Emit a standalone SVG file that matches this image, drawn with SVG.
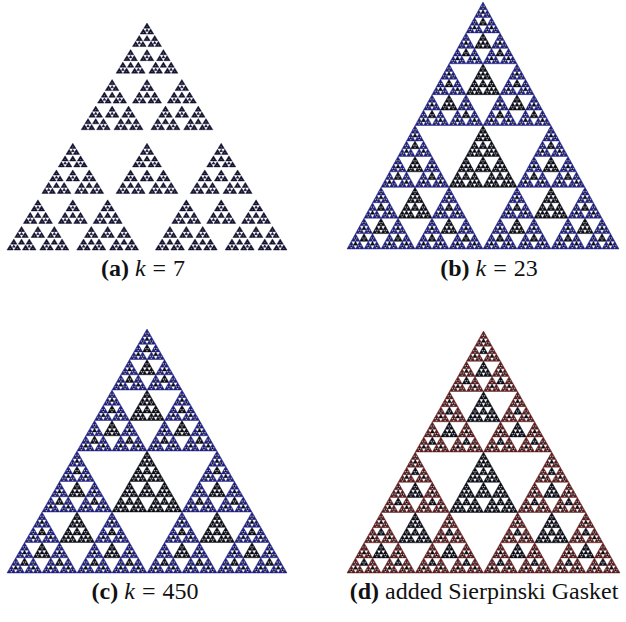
<svg xmlns="http://www.w3.org/2000/svg" width="626" height="622" viewBox="0 0 626 622">
  <style>
    .leaf { stroke-width: 0.45px; vector-effect: non-scaling-stroke; stroke-linejoin: miter; }
    .k { fill: #0b0b16; stroke: #0b0b16; }
    .ink { fill: #121230; stroke: #121230; }
    .blue { fill: #1f1f82; stroke: #1f1f82; }
    .red { fill: #5e1c1c; stroke: #5e1c1c; }
    .cap { font-family: "Liberation Serif", "Times New Roman", serif; font-size: 24px; fill: #111; text-anchor: middle; }
    .cap .b { font-weight: bold; }
    .cap .i { font-style: italic; }
  </style>
  <defs>
    <!-- unit triangle: apex (0.5,0), base (0,1)-(1,1) -->
    <polygon id="t" class="leaf" points="0,1 1,1 0.5,0"/>
    <polygon id="k0" class="k leaf" points="0,1 1,1 0.5,0"/>
    <!-- small solid triangle with a pin-hole, for the early iterate -->
    <path id="tp" class="leaf" fill-rule="evenodd" d="M0,1 L1,1 L0.5,0 Z M0.38,0.62 L0.62,0.62 L0.5,0.84 Z"/>

    <!-- black gasket with filled holes: 3 half-size corners + quarter-size copy at hole top -->
    <g id="k1">
      <use href="#k0" transform="translate(0.25 0) scale(0.5)"/>
      <use href="#k0" transform="translate(0 0.5) scale(0.5)"/>
      <use href="#k0" transform="translate(0.5 0.5) scale(0.5)"/>
      <use href="#k0" transform="translate(0.375 0.5) scale(0.25)"/>
    </g>
    <g id="k2">
      <use href="#k1" transform="translate(0.25 0) scale(0.5)"/>
      <use href="#k1" transform="translate(0 0.5) scale(0.5)"/>
      <use href="#k1" transform="translate(0.5 0.5) scale(0.5)"/>
      <use href="#k0" transform="translate(0.375 0.5) scale(0.25)"/>
    </g>
    <g id="k3">
      <use href="#k2" transform="translate(0.25 0) scale(0.5)"/>
      <use href="#k2" transform="translate(0 0.5) scale(0.5)"/>
      <use href="#k2" transform="translate(0.5 0.5) scale(0.5)"/>
      <use href="#k1" transform="translate(0.375 0.5) scale(0.25)"/>
    </g>
    <g id="k4">
      <use href="#k3" transform="translate(0.25 0) scale(0.5)"/>
      <use href="#k3" transform="translate(0 0.5) scale(0.5)"/>
      <use href="#k3" transform="translate(0.5 0.5) scale(0.5)"/>
      <use href="#k2" transform="translate(0.375 0.5) scale(0.25)"/>
    </g>

    <!-- coloured gasket: corners take the inherited fill, hole copies stay black -->
    <g id="b1">
      <use href="#t" transform="translate(0.25 0) scale(0.5)"/>
      <use href="#t" transform="translate(0 0.5) scale(0.5)"/>
      <use href="#t" transform="translate(0.5 0.5) scale(0.5)"/>
      <use href="#k0" transform="translate(0.375 0.5) scale(0.25)"/>
    </g>
    <g id="b2">
      <use href="#b1" transform="translate(0.25 0) scale(0.5)"/>
      <use href="#b1" transform="translate(0 0.5) scale(0.5)"/>
      <use href="#b1" transform="translate(0.5 0.5) scale(0.5)"/>
      <use href="#k0" transform="translate(0.375 0.5) scale(0.25)"/>
    </g>
    <g id="b3">
      <use href="#b2" transform="translate(0.25 0) scale(0.5)"/>
      <use href="#b2" transform="translate(0 0.5) scale(0.5)"/>
      <use href="#b2" transform="translate(0.5 0.5) scale(0.5)"/>
      <use href="#k1" transform="translate(0.375 0.5) scale(0.25)"/>
    </g>
    <g id="b4">
      <use href="#b3" transform="translate(0.25 0) scale(0.5)"/>
      <use href="#b3" transform="translate(0 0.5) scale(0.5)"/>
      <use href="#b3" transform="translate(0.5 0.5) scale(0.5)"/>
      <use href="#k2" transform="translate(0.375 0.5) scale(0.25)"/>
    </g>
    <g id="b5">
      <use href="#b4" transform="translate(0.25 0) scale(0.5)"/>
      <use href="#b4" transform="translate(0 0.5) scale(0.5)"/>
      <use href="#b4" transform="translate(0.5 0.5) scale(0.5)"/>
      <use href="#k3" transform="translate(0.375 0.5) scale(0.25)"/>
    </g>
    <g id="b6">
      <use href="#b5" transform="translate(0.25 0) scale(0.5)"/>
      <use href="#b5" transform="translate(0 0.5) scale(0.5)"/>
      <use href="#b5" transform="translate(0.5 0.5) scale(0.5)"/>
      <use href="#k4" transform="translate(0.375 0.5) scale(0.25)"/>
    </g>

    <!-- early iterate: pieces contracted by 0.47, leaving gaps -->
    <g id="a1">
      <use href="#tp" transform="translate(0.265 0) scale(0.47)"/>
      <use href="#tp" transform="translate(0 0.53) scale(0.47)"/>
      <use href="#tp" transform="translate(0.53 0.53) scale(0.47)"/>
      <use href="#tp" transform="translate(0.3895 0.53) scale(0.221)"/>
    </g>
    <g id="a2">
      <use href="#a1" transform="translate(0.265 0) scale(0.47)"/>
      <use href="#a1" transform="translate(0 0.53) scale(0.47)"/>
      <use href="#a1" transform="translate(0.53 0.53) scale(0.47)"/>
      <use href="#tp" transform="translate(0.3895 0.53) scale(0.221)"/>
    </g>
    <g id="a3">
      <use href="#a2" transform="translate(0.265 0) scale(0.47)"/>
      <use href="#a2" transform="translate(0 0.53) scale(0.47)"/>
      <use href="#a2" transform="translate(0.53 0.53) scale(0.47)"/>
      <use href="#a1" transform="translate(0.3895 0.53) scale(0.221)"/>
    </g>
    <g id="a4">
      <use href="#a3" transform="translate(0.265 0) scale(0.47)"/>
      <use href="#a3" transform="translate(0 0.53) scale(0.47)"/>
      <use href="#a3" transform="translate(0.53 0.53) scale(0.47)"/>
      <use href="#a2" transform="translate(0.3895 0.53) scale(0.221)"/>
    </g>
    <g id="a5">
      <use href="#a4" transform="translate(0.265 0) scale(0.47)"/>
      <use href="#a4" transform="translate(0 0.53) scale(0.47)"/>
      <use href="#a4" transform="translate(0.53 0.53) scale(0.47)"/>
      <use href="#a3" transform="translate(0.3895 0.53) scale(0.221)"/>
    </g>
  </defs>

  <g id="panel-a">
    <use href="#a5" class="ink" transform="translate(7 23) scale(280 227)"/>
    <text class="cap" x="143" y="276"><tspan class="b">(a)</tspan> <tspan class="i">k</tspan><tspan dx="7">=</tspan><tspan dx="7">7</tspan></text>
  </g>
  <g id="panel-b">
    <use href="#b6" class="blue" transform="translate(347 2) scale(272 247)"/>
    <text class="cap" x="489" y="276"><tspan class="b">(b)</tspan> <tspan class="i">k</tspan><tspan dx="7">=</tspan><tspan dx="7">23</tspan></text>
  </g>
  <g id="panel-c">
    <use href="#b6" class="blue" transform="translate(7 329) scale(280 244)"/>
    <text class="cap" x="145" y="599"><tspan class="b">(c)</tspan> <tspan class="i">k</tspan><tspan dx="7">=</tspan><tspan dx="7">450</tspan></text>
  </g>
  <g id="panel-d">
    <use href="#b6" class="red" transform="translate(347 331) scale(273 242)"/>
    <text class="cap" x="484" y="599"><tspan class="b">(d)</tspan> added Sierpinski Gasket</text>
  </g>
</svg>
